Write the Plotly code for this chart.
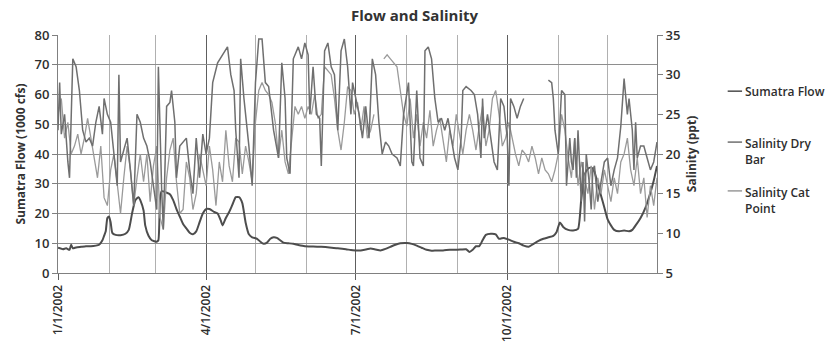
import pandas as pd
import plotly.graph_objects as go

# ---- data -------------------------------------------------------------
start = pd.Timestamp("2002-01-01")

# Sumatra Flow, 1000 cfs (day offset from 1/1/2002)
flow_days = [0, 3, 5, 7, 8, 9, 11, 14, 17, 20, 23, 25, 27, 28, 29, 30, 31, 32, 33, 35,
             38, 41, 43, 45, 47, 49, 50, 52, 53, 55, 57, 60, 61, 62, 63, 66, 68, 70, 72, 74,
             76, 78, 80, 82, 84, 86, 88, 90, 92, 95, 97, 99, 100, 102, 104, 106, 108, 110, 112, 114,
             116, 118, 121, 123, 125, 127, 129, 131, 133, 135, 137, 140, 143, 146, 150, 155, 160, 165, 170, 175,
             178, 181, 184, 187, 190, 193, 196, 199, 202, 205, 208, 212, 215, 218, 221, 224, 227, 230, 234, 238,
             242, 245, 248, 250, 252, 254, 256, 258, 260, 263, 266, 268, 271, 274, 277, 280, 283, 286, 289, 292,
             295, 298, 301, 303, 305, 307, 310, 313, 316, 318, 320, 322, 324, 326, 328, 330, 332, 334, 336, 338,
             341, 344, 347, 349, 351, 354, 357, 360, 362, 364]
flow_vals = [8.5, 8.0, 8.3, 7.8, 9.5, 8.3, 8.6, 8.8, 9.0, 9.0, 9.2, 9.5, 11, 12.5, 14, 18.5, 19, 17, 13.5, 12.8,
             12.7, 13.2, 14.5, 20, 24.5, 25.5, 24.5, 21, 16, 12.5, 11, 10.5, 11, 25, 27.5, 27, 26.5, 24.5, 21.5, 19,
             16.5, 15, 13.5, 13, 14, 17, 20, 21.5, 21.5, 20.5, 20, 17.5, 16, 18.5, 20.5, 23, 25.5, 25.5, 23.5, 17,
             13, 12, 11.5, 10.5, 9.8, 10.2, 11.5, 12, 11.8, 11, 10.2, 10.0, 9.8, 9.4, 9.0, 8.9, 8.8, 8.6, 8.3, 8.0,
             7.7, 7.6, 7.6, 7.9, 8.2, 7.9, 7.6, 8.1, 8.8, 9.5, 10.0, 10.1, 9.8, 9.2, 8.5, 7.8, 7.5, 7.6, 7.6, 7.8,
             7.8, 7.9, 8.0, 7.1, 7.8, 9.0, 9.0, 11, 12.8, 13.2, 13, 11.5, 11.8, 11.2, 10.5, 10.0, 9.2, 8.8, 9.8, 10.8,
             11.5, 12.0, 12.5, 13.8, 17, 15.5, 14.5, 14.3, 14.8, 25, 33, 35, 35.5, 34, 30, 26, 22, 18, 16, 14.5,
             14, 14.3, 14, 14.5, 16, 18.5, 22, 27, 31, 36]

# Salinity at Dry Bar, ppt (None = no reading)
drybar_days = [0, 1, 2, 4, 6, 7, 9, 11, 13, 15, 17, 19, 21, 23, 25, 27, 28, 30, 32, 34,
               36, 37, 38, 40, 42, 44, 46, 48, 50, 52, 54, 56, 58, 60, 61, 62, 63, 64, 66, 68,
               69, 71, 72, 74, 76, 78, 80, 82, 84, 86, 88, 90, 92, 94, 97, 100, 103, 105, 107, 108,
               110, 111, 113, 116, 118, 120, 122, 124, 126, 128, 131, 134, 136, 138, 139, 141, 143, 146, 148, 150,
               152, 153, 155, 157, 159, 160, 162, 164, 166, 168, 170, 172, 174, 176, 178, 179, 181, 183, 185, 187,
               189, 191, 193, 195, 197, 199, 201, 203, 206, 208, 210, 213, 215, 216, 218, 220, 222, 223, 225, 227,
               229, 231, 233, 235, 237, 239, 241, 243, 245, 246, 248, 251, 253, 255, 257, 258, 259, 261, 263, 265,
               267, 269, 271, 273, 274, 275, 277, 279, 281, 283, 290, 298, 300, 301, 302, 304, 306, 308, 309, 311,
               312, 313, 314, 315, 316, 318, 319, 320, 321, 323, 324, 325, 326, 328, 330, 332, 334, 336, 338, 340,
               342, 344, 346, 347, 349, 350, 351, 352, 354, 356, 358, 360, 362, 364]
drybar_vals = [23, 29, 22.5, 25, 19, 17, 32, 31, 28, 23, 21.5, 22, 21, 24, 26, 22.5, 27, 25, 24, 20,
               16, 30, 19, 20.5, 22, 18, 13.5, 25, 24, 22, 21, 19, 16, 13, 31, 22, 15.5, 10.5, 26, 26.5,
               28, 24, 17, 21, 21.5, 22, 18, 15, 22, 17, 22.5, 20, 22, 29, 31.5, 32.5, 33.5, 30, 28, 23,
               17, 32, 27, 21, 16, 29, 34.5, 34.5, 29, 28.5, 23, 19.5, 31.5, 27, 19.5, 17.5, 32, 33.5, 32, 34,
               32.5, 25, 31, 25, 24.5, 18.5, 33, 34, 31, 30, 23, 33, 34.5, 31, 25, 29, 27, 25, 22, 26,
               22, 32, 30, 24, 20, 21.5, 21, 20, 19.5, 18.5, 25, 29, 19, 18.5, 28, 19.5, 18.5, 33, 33.5, 32,
               27, 24, 24.5, 23, 24.5, 22, 19.5, 18, 22, 28, 28.5, 28, 27.5, 25, 19.5, 27, 22, 25, 22, 19,
               18, 27, 26, 22, 16, 27, 26, 24.5, 26, 27, None, 29.3, 29, 27, 23, 20, 28, 27.5, 16, 22,
               19, 18, 22, 17, 23, 14, 19, 11.5, 20, 16, 13, 18, 18.5, 14, 16.5, 19, 19.5, 16, 18, 19.5,
               23.5, 29.5, 25, 27, 23, 18, 24, 19.5, 21, 21, 19.5, 18, 19, 21.5]

# Salinity at Cat Point, ppt (None = no reading)
catpoint_days = [0, 2, 4, 6, 8, 10, 12, 14, 16, 18, 20, 22, 24, 26, 28, 30, 32, 34, 36, 38,
                 40, 42, 44, 46, 48, 50, 52, 54, 56, 58, 60, 62, 64, 66, 68, 70, 72, 74, 76, 78,
                 80, 82, 84, 86, 88, 90, 92, 94, 96, 98, 100, 102, 104, 106, 108, 110, 112, 114, 116, 118,
                 120, 122, 124, 126, 128, 130, 132, 134, 136, 138, 140, 142, 144, 146, 148, 150, 152, 154, 156, 158,
                 160, 162, 164, 166, 168, 170, 172, 174, 176, 178, 180, 182, 184, 186, 188, 190, 192, 195, 198, 200,
                 202, 204, 206, 208, 210, 212, 214, 216, 218, 220, 222, 224, 226, 228, 230, 232, 234, 236, 238, 240,
                 242, 244, 246, 248, 250, 252, 254, 256, 258, 260, 262, 264, 266, 268, 270, 272, 274, 276, 278, 280,
                 282, 284, 286, 288, 290, 292, 294, 296, 298, 300, 302, 304, 306, 308, 310, 312, 314, 316, 318, 320,
                 322, 324, 326, 328, 330, 332, 334, 336, 338, 340, 342, 344, 346, 348, 350, 352, 354, 356, 358, 360,
                 362, 364]
catpoint_vals = [25, 27, 22, 24, 20, 21, 22.5, 20, 22, 24.5, 22, 19.5, 17, 21, 14.5, 13.5, 18, 20, 16, 12.5,
                 17, 21, 18, 13.5, 17, 20, 16.5, 20, 14, 18.5, 21, 12, 10.5, 17, 20.5, 22, 16.5, 12.5, 13, 19,
                 17, 13, 15, 20, 18, 16, 21, 18, 13.5, 19, 16.5, 23, 18.5, 16.5, 22, 21.5, 17.5, 21, 19, 16.5,
                 24, 28, 29, 28, 27.5, 26.5, 24, 19.5, 23, 19, 17.5, 22, 26, 25, 26, 24.5, 26, 25, 27.5, 24.5,
                 25, 31, 30.5, 30, 27, 23, 20.5, 24, 28.5, 28, 25, 26.5, 23, 26, 22, 23, 25, None, 32, 32.5,
                 32, 31.5, 31, 28, 25, 23.5, 27, 22, 25, 21, 24, 22, 25.5, 21, 23, 24.5, 22, 19, 23, 21,
                 25, 22.5, 20, 23, 25, 23, 20.5, 23.5, 26, 21, 23, 27, 28, 25, 21, 22, 24, 22, 20, 18.5,
                 20.5, 20, 19, 21, 19.5, 17.5, 19.5, 18, 17.5, 16.5, 18, 20, 25, 23, 19.5, 17, 22, 16, 19, 17,
                 15, 18.5, 13, 17, 15, 18, 16, 14, 17, 15, 19, 20, 22, 18, 16, 19.5, 15, 17, 12, 16,
                 13.5, 17]

quarter_ticks = ["2002-01-01", "2002-04-01", "2002-07-01", "2002-10-01"]
quarter_labels = ["1/1/2002", "4/1/2002", "7/1/2002", "10/1/2002"]

series_names = ["Sumatra Flow", "Salinity Dry<br>Bar", "Salinity Cat<br>Point"]
series_colors = ["#4d4d4d", "#6f6f6f", "#9a9a9a"]


def to_dates(days):
    return start + pd.to_timedelta(days, unit="D")


FONT = "Open Sans, Lato, sans-serif"
TXT = "#2e2e2e"

fig = go.Figure()
fig.add_trace(go.Scatter(x=to_dates(catpoint_days), y=catpoint_vals, yaxis="y2",
                         mode="lines", line=dict(color=series_colors[2], width=1.3),
                         name="Salinity Cat Point", showlegend=False))
fig.add_trace(go.Scatter(x=to_dates(drybar_days), y=drybar_vals, yaxis="y2",
                         mode="lines", line=dict(color=series_colors[1], width=1.5),
                         name="Salinity Dry Bar", showlegend=False))
fig.add_trace(go.Scatter(x=to_dates(flow_days), y=flow_vals, yaxis="y",
                         mode="lines", line=dict(color=series_colors[0], width=2, shape="spline", smoothing=0.5),
                         name="Sumatra Flow", showlegend=False))

# legend drawn beside the plot: short line + wrapped label
legend_y = [0.764, 0.55, 0.345]
for name, color, ly in zip(series_names, series_colors, legend_y):
    fig.add_shape(type="line", xref="paper", yref="paper",
                  x0=1.118, x1=1.142, y0=ly, y1=ly,
                  line=dict(color=color, width=1.5))
    fig.add_annotation(text=name, xref="paper", yref="paper", x=1.143, y=ly,
                       xanchor="left", yanchor="top" if "<br>" in name else "middle",
                       yshift=9 if "<br>" in name else 0,
                       align="left", showarrow=False,
                       font=dict(family=FONT, size=12, color=TXT, weight=600))

fig.update_layout(
    width=829, height=347,
    margin=dict(l=58, r=172, t=35, b=74, autoexpand=False),
    paper_bgcolor="white", plot_bgcolor="white",
    font=dict(family=FONT, size=12, color=TXT),
    title=dict(text="<b>Flow and Salinity</b>", x=0.5, xref="container", xanchor="center",
               y=0.955, yref="container", yanchor="middle",
               font=dict(family=FONT, size=15, color="#333333")),
    xaxis=dict(type="date", range=["2002-01-01", "2002-12-31"], automargin=False,
               tickvals=quarter_ticks, ticktext=quarter_labels, tickangle=-90,
               showgrid=True, gridcolor="#5e5e5e", gridwidth=1,
               ticks="outside", ticklen=6, tickcolor="#5e5e5e",
               minor=dict(dtick="M1", tick0="2002-01-01", showgrid=True,
                          gridcolor="#b0b0b0", gridwidth=1, ticks=""),
               showline=True, linecolor="#808080", zeroline=False,
               tickfont=dict(size=12, color=TXT, weight=600)),
    yaxis=dict(range=[0, 80], dtick=10, showgrid=True, gridcolor="#8e8e8e", gridwidth=1,
               showline=True, linecolor="#808080", ticks="outside", ticklen=5,
               tickcolor="#808080", zeroline=False, automargin=False,
               title=dict(text="<b>Sumatra Flow (1000 cfs)</b>", standoff=6,
                          font=dict(size=12, color="#333333")),
               tickfont=dict(size=13, color=TXT, weight=600)),
    yaxis2=dict(range=[5, 35], dtick=5, overlaying="y", side="right", showgrid=False,
                showline=True, linecolor="#808080", ticks="outside", ticklen=5,
                tickcolor="#808080", zeroline=False, automargin=False,
                title=dict(text="<b>Salinity (ppt)</b>", standoff=8,
                           font=dict(size=12, color="#333333")),
                tickfont=dict(size=13, color=TXT, weight=600)),
)

fig.write_html("out.html")
